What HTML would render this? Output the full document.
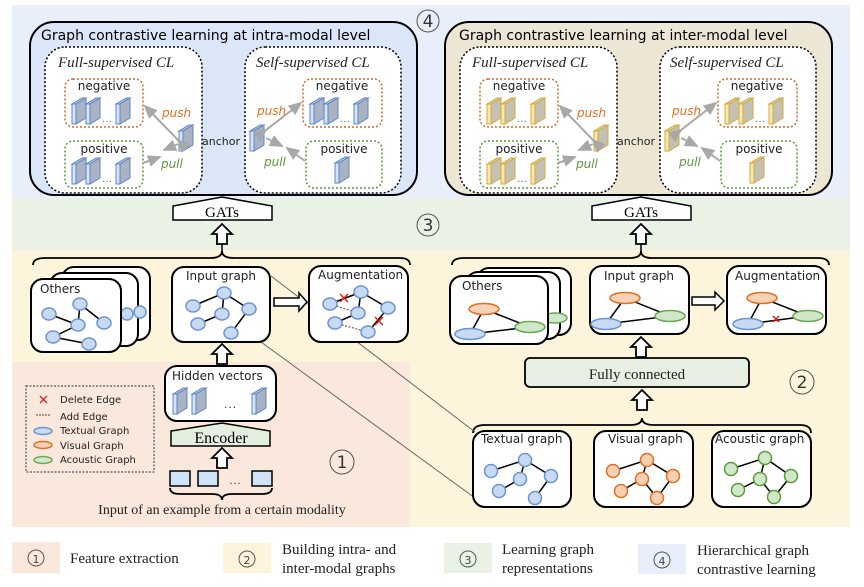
<!DOCTYPE html>
<html><head><meta charset="utf-8"><style>
html,body{margin:0;padding:0;background:#fff}
svg{display:block}
.h{font-family:"DejaVu Sans","Liberation Sans",sans-serif}
.s{font-family:"Liberation Serif",serif}
</style></head><body>
<svg width="864" height="587" viewBox="0 0 864 587" xmlns="http://www.w3.org/2000/svg">
<defs>
<g id="cb"><polygon points="0,6 10,0 14,0 4,6" fill="#b8c4d6" stroke="#5b86c8" stroke-width="1"/><polygon points="4,6 14,0 14,20 4,26" fill="#a9b3c4" stroke="#5b86c8" stroke-width="1"/><rect x="0" y="6" width="4" height="20" fill="#d5e4f8" stroke="#5b86c8" stroke-width="1"/></g>
<g id="cy"><polygon points="0,6 10,0 14,0 4,6" fill="#d7cfa8" stroke="#d4aa3c" stroke-width="1"/><polygon points="4,6 14,0 14,20 4,26" fill="#c4c1b2" stroke="#d4aa3c" stroke-width="1"/><rect x="0" y="6" width="4" height="20" fill="#f7e8b0" stroke="#d4aa3c" stroke-width="1"/></g>
<marker id="ga" markerWidth="8" markerHeight="8" refX="6" refY="4" orient="auto"><path d="M0,1 L7,4 L0,7z" fill="#a8a8a8"/></marker>
<g id="upar"><polygon points="-5,18 -5,8 -10,8 0,-2 10,8 5,8 5,18" fill="#fff" stroke="#000" stroke-width="1.8"/></g>
</defs>
<rect x="12" y="5" width="838" height="193" fill="#e9effa"/>
<rect x="12" y="198" width="838" height="52" fill="#eaf2e5"/>
<rect x="12" y="250" width="838" height="277" fill="#fdf4dc"/>
<rect x="12" y="362" width="398" height="165" fill="#fbe8dc"/>
<g class="h" font-size="17" fill="#333" text-anchor="middle">
<circle cx="428" cy="21" r="11" fill="none" stroke="#555"/><text x="428" y="27">4</text>
<circle cx="428" cy="225" r="11" fill="none" stroke="#555"/><text x="428" y="231">3</text>
<circle cx="342" cy="462" r="12" fill="none" stroke="#555"/><text x="342" y="468">1</text>
<circle cx="802" cy="382" r="12" fill="none" stroke="#555"/><text x="802" y="388">2</text>
</g>

<g>
<rect x="30" y="22" width="387" height="173" rx="24" fill="#dbe7f8" stroke="#000" stroke-width="2"/>
<text x="41" y="40" class="h" font-size="14" fill="#000">Graph contrastive learning at intra-modal level</text>
<rect x="45" y="47" width="157" height="146" rx="20" fill="#fff" stroke="#000" stroke-width="1.5" stroke-dasharray="2,2"/>
<rect x="245" y="47" width="156" height="146" rx="20" fill="#fff" stroke="#000" stroke-width="1.5" stroke-dasharray="2,2"/>
<text x="58" y="67" class="s" font-size="15" font-style="italic" fill="#222">Full-supervised CL</text>
<text x="256" y="67" class="s" font-size="15" font-style="italic" fill="#222">Self-supervised CL</text>
<rect x="65" y="79" width="78" height="48" rx="8" fill="#fff" stroke="#d06a28" stroke-width="1.5" stroke-dasharray="2,2"/>
<rect x="65" y="141" width="78" height="47" rx="8" fill="#fff" stroke="#5a9a3a" stroke-width="1.5" stroke-dasharray="2,2"/>
<rect x="303" y="79" width="79" height="48" rx="8" fill="#fff" stroke="#d06a28" stroke-width="1.5" stroke-dasharray="2,2"/>
<rect x="306" y="141" width="76" height="47" rx="8" fill="#fff" stroke="#5a9a3a" stroke-width="1.5" stroke-dasharray="2,2"/>
<g class="h" font-size="12" fill="#222" text-anchor="middle"><text x="104" y="90">negative</text><text x="104" y="153">positive</text><text x="342" y="90">negative</text><text x="344" y="153">positive</text></g>
<use href="#cb" x="72" y="98"/><use href="#cb" x="86" y="98"/><use href="#cb" x="116" y="98"/><text x="102" y="122" font-size="10" fill="#666">…</text>
<use href="#cb" x="72" y="158"/><use href="#cb" x="86" y="158"/><use href="#cb" x="116" y="158"/><text x="102" y="182" font-size="10" fill="#666">…</text>
<use href="#cb" x="310" y="98"/><use href="#cb" x="324" y="98"/><use href="#cb" x="354" y="98"/><text x="340" y="122" font-size="10" fill="#666">…</text>
<use href="#cb" x="335" y="157"/>
<use href="#cb" x="179" y="125"/><use href="#cb" x="250" y="125"/>
<g stroke="#a8a8a8" stroke-width="2" fill="none"><line x1="178" y1="140" x2="145" y2="106" marker-end="url(#ga)" marker-start="url(#ga)"/><line x1="143" y1="163" x2="160" y2="157" marker-end="url(#ga)"/><line x1="178" y1="144" x2="164" y2="150" marker-end="url(#ga)"/>
<line x1="266" y1="130" x2="301" y2="103" marker-end="url(#ga)" marker-start="url(#ga)"/><line x1="305" y1="161" x2="287" y2="148" marker-end="url(#ga)"/><line x1="266" y1="138" x2="282" y2="146" marker-end="url(#ga)"/></g>
<text x="162" y="117" class="h" font-size="12" font-style="italic" fill="#e07020">push</text>
<text x="161" y="168" class="h" font-size="12" font-style="italic" fill="#5a9a3a">pull</text>
<text x="257" y="115" class="h" font-size="12" font-style="italic" fill="#e07020">push</text>
<text x="264" y="166" class="h" font-size="12" font-style="italic" fill="#5a9a3a">pull</text>
<text x="202" y="145" class="h" font-size="11" fill="#222">anchor</text>
</g>
<g>
<rect x="445" y="22" width="387" height="173" rx="24" fill="#ede6d5" stroke="#000" stroke-width="2"/>
<text x="459" y="40" class="h" font-size="14" fill="#000">Graph contrastive learning at inter-modal level</text>
<rect x="460" y="47" width="157" height="146" rx="20" fill="#fff" stroke="#000" stroke-width="1.5" stroke-dasharray="2,2"/>
<rect x="660" y="47" width="156" height="146" rx="20" fill="#fff" stroke="#000" stroke-width="1.5" stroke-dasharray="2,2"/>
<text x="472" y="67" class="s" font-size="15" font-style="italic" fill="#222">Full-supervised CL</text>
<text x="670" y="67" class="s" font-size="15" font-style="italic" fill="#222">Self-supervised CL</text>
<rect x="480" y="79" width="78" height="48" rx="8" fill="#fff" stroke="#d06a28" stroke-width="1.5" stroke-dasharray="2,2"/>
<rect x="480" y="141" width="78" height="47" rx="8" fill="#fff" stroke="#5a9a3a" stroke-width="1.5" stroke-dasharray="2,2"/>
<rect x="718" y="79" width="79" height="48" rx="8" fill="#fff" stroke="#d06a28" stroke-width="1.5" stroke-dasharray="2,2"/>
<rect x="721" y="141" width="76" height="47" rx="8" fill="#fff" stroke="#5a9a3a" stroke-width="1.5" stroke-dasharray="2,2"/>
<g class="h" font-size="12" fill="#222" text-anchor="middle"><text x="519" y="90">negative</text><text x="519" y="153">positive</text><text x="757" y="90">negative</text><text x="759" y="153">positive</text></g>
<use href="#cy" x="487" y="98"/><use href="#cy" x="501" y="98"/><use href="#cy" x="531" y="98"/><text x="517" y="122" font-size="10" fill="#666">…</text>
<use href="#cy" x="487" y="158"/><use href="#cy" x="501" y="158"/><use href="#cy" x="531" y="158"/><text x="517" y="182" font-size="10" fill="#666">…</text>
<use href="#cy" x="725" y="98"/><use href="#cy" x="739" y="98"/><use href="#cy" x="769" y="98"/><text x="755" y="122" font-size="10" fill="#666">…</text>
<use href="#cy" x="750" y="157"/>
<use href="#cy" x="594" y="125"/><use href="#cy" x="665" y="125"/>
<g stroke="#a8a8a8" stroke-width="2" fill="none"><line x1="593" y1="140" x2="560" y2="106" marker-end="url(#ga)" marker-start="url(#ga)"/><line x1="558" y1="163" x2="575" y2="157" marker-end="url(#ga)"/><line x1="593" y1="144" x2="579" y2="150" marker-end="url(#ga)"/>
<line x1="681" y1="130" x2="716" y2="103" marker-end="url(#ga)" marker-start="url(#ga)"/><line x1="720" y1="161" x2="702" y2="148" marker-end="url(#ga)"/><line x1="681" y1="138" x2="697" y2="146" marker-end="url(#ga)"/></g>
<text x="577" y="117" class="h" font-size="12" font-style="italic" fill="#e07020">push</text>
<text x="576" y="168" class="h" font-size="12" font-style="italic" fill="#5a9a3a">pull</text>
<text x="672" y="115" class="h" font-size="12" font-style="italic" fill="#e07020">push</text>
<text x="679" y="166" class="h" font-size="12" font-style="italic" fill="#5a9a3a">pull</text>
<text x="617" y="145" class="h" font-size="11" fill="#222">anchor</text>
</g>

<polygon points="173,220 173,206 222,197 272,206 272,220" fill="#fff" stroke="#000" stroke-width="1.5"/>
<text x="222" y="217" class="s" font-size="15" text-anchor="middle">GATs</text>
<polygon points="592,220 592,206 641,197 691,206 691,220" fill="#fff" stroke="#000" stroke-width="1.5"/>
<text x="641" y="217" class="s" font-size="15" text-anchor="middle">GATs</text>
<use href="#upar" x="222" y="226"/><line x1="222" y1="244" x2="222" y2="252" stroke="#000" stroke-width="1.5"/>
<use href="#upar" x="641" y="226"/><line x1="641" y1="244" x2="641" y2="252" stroke="#000" stroke-width="1.5"/>

<g fill="none" stroke="#000" stroke-width="1.8">
<path d="M33,265 Q33,258 45,258 L210,258 Q222,258 222,251 Q222,258 234,258 L400,258 Q410,258 410,265"/>
<path d="M452,265 Q452,258 464,258 L630,258 Q641,258 641,251 Q641,258 652,258 L818,258 Q829,258 829,265"/>
<path d="M473,433 Q473,425 485,425 L630,425 Q642,425 642,418 Q642,425 654,425 L800,425 Q811,425 811,433"/>
<path d="M170,488 Q170,494 180,494 L212,494 Q222,494 222,500 Q222,494 232,494 L262,494 Q272,494 272,488"/>
</g>

<g stroke="#666" stroke-width="1"><line x1="271" y1="276" x2="475" y2="432"/><line x1="261" y1="342" x2="475" y2="498"/></g>

<g stroke="#000" stroke-width="2" fill="#fff">
<rect x="62" y="267" width="88" height="73" rx="12"/><rect x="50" y="273" width="88" height="73" rx="12"/>
</g>
<g fill="#c7daf4" stroke="#6d94d0" stroke-width="1.5"><ellipse cx="140" cy="312" rx="6" ry="6"/><ellipse cx="127" cy="314" rx="6" ry="6"/></g>
<g stroke="#000" stroke-width="2" fill="#fff">
<rect x="31" y="279" width="90" height="73" rx="12"/>
<rect x="172" y="267" width="98" height="75" rx="12"/>
<rect x="309" y="266" width="99" height="76" rx="12"/>
<rect x="165" y="366" width="111" height="55" rx="12"/>
</g>
<g stroke="#000" stroke-width="1.5"><line x1="49" y1="314" x2="78" y2="325"/><line x1="80" y1="304" x2="104" y2="323"/><line x1="80" y1="304" x2="78" y2="325"/><line x1="78" y1="325" x2="53" y2="337"/><line x1="53" y1="337" x2="89" y2="344"/>
<line x1="193" y1="306" x2="224" y2="293"/><line x1="224" y1="293" x2="222" y2="314"/><line x1="224" y1="293" x2="249" y2="309"/><line x1="198" y1="324" x2="222" y2="314"/><line x1="249" y1="309" x2="231" y2="333"/>
<line x1="330" y1="304" x2="361" y2="292"/><line x1="361" y1="292" x2="358" y2="313"/><line x1="361" y1="292" x2="388" y2="308"/><line x1="335" y1="323" x2="358" y2="313"/><line x1="388" y1="308" x2="368" y2="332"/></g>
<g stroke="#666" stroke-width="1.2" stroke-dasharray="2,1.5"><line x1="330" y1="304" x2="358" y2="313"/><line x1="335" y1="323" x2="368" y2="332"/></g>
<g fill="#c7daf4" stroke="#6d94d0" stroke-width="1.5">
<ellipse cx="49" cy="314" rx="7" ry="6"/><ellipse cx="80" cy="304" rx="7" ry="6"/><ellipse cx="78" cy="325" rx="7" ry="6"/><ellipse cx="104" cy="323" rx="7" ry="6"/><ellipse cx="53" cy="337" rx="7" ry="6"/><ellipse cx="89" cy="344" rx="7" ry="6"/>
<ellipse cx="193" cy="306" rx="7" ry="6"/><ellipse cx="224" cy="293" rx="7" ry="6"/><ellipse cx="222" cy="314" rx="7" ry="6"/><ellipse cx="249" cy="309" rx="7" ry="6"/><ellipse cx="198" cy="324" rx="7" ry="6"/><ellipse cx="231" cy="333" rx="7" ry="6"/>
<ellipse cx="330" cy="304" rx="7" ry="6"/><ellipse cx="361" cy="292" rx="7" ry="6"/><ellipse cx="358" cy="313" rx="7" ry="6"/><ellipse cx="388" cy="308" rx="7" ry="6"/><ellipse cx="335" cy="323" rx="7" ry="6"/><ellipse cx="368" cy="332" rx="7" ry="6"/>
</g>
<g stroke="#e02020" stroke-width="1.5"><path d="M340,294 l8,8 M348,294 l-8,8"/><path d="M375,317 l8,8 M383,317 l-8,8"/></g>
<g class="h" font-size="12" fill="#222"><text x="40" y="293">Others</text><text x="186" y="280">Input graph</text><text x="318" y="279">Augmentation</text><text x="172" y="380">Hidden vectors</text></g>
<polygon points="274,298 299,298 299,293 307,302 299,311 299,306 274,306" fill="#fff" stroke="#000" stroke-width="1.5"/>
<use href="#upar" x="222" y="346"/>
<use href="#cb" x="173" y="388"/><use href="#cb" x="192" y="388"/><use href="#cb" x="252" y="388"/>
<text x="230" y="408" font-size="13" fill="#333" text-anchor="middle">…</text>
<polygon points="171,446 171,431 222,423 270,431 270,446" fill="#e4efe0" stroke="#000" stroke-width="1.5"/>
<text x="221" y="443" class="s" font-size="16" text-anchor="middle">Encoder</text>
<use href="#upar" x="222" y="450"/>
<g fill="#cfe2f8" stroke="#000" stroke-width="1.5"><rect x="170" y="471" width="20" height="15"/><rect x="198" y="471" width="20" height="15"/><rect x="252" y="471" width="20" height="15"/></g>
<text x="235" y="484" font-size="12" fill="#333" text-anchor="middle">…</text>
<text x="222" y="514" class="s" font-size="14" fill="#222" text-anchor="middle">Input of an example from a certain modality</text>
<rect x="26" y="386" width="128" height="86" fill="none" stroke="#555" stroke-width="1.2" stroke-dasharray="2,1.5"/>
<g class="h" font-size="10" fill="#222"><text x="60" y="403">Delete Edge</text><text x="60" y="420">Add Edge</text><text x="60" y="434">Textual Graph</text><text x="60" y="449">Visual Graph</text><text x="60" y="463">Acoustic Graph</text></g>
<path d="M40,396 l7,7 M47,396 l-7,7" stroke="#e02020" stroke-width="1.3"/>
<line x1="36" y1="415" x2="50" y2="415" stroke="#444" stroke-dasharray="2,1"/>
<ellipse cx="43" cy="431" rx="9" ry="3.5" fill="#c7daf4" stroke="#6d94d0" stroke-width="1.5"/>
<ellipse cx="43" cy="445" rx="9" ry="3.5" fill="#f8d2b8" stroke="#e07020" stroke-width="1.5"/>
<ellipse cx="43" cy="460" rx="9" ry="3.5" fill="#d1e8c8" stroke="#6aa855" stroke-width="1.5"/>

<g stroke="#000" stroke-width="2" fill="#fff">
<rect x="477" y="268" width="94" height="67" rx="12"/><rect x="466" y="272" width="94" height="67" rx="12"/>
</g>
<ellipse cx="555" cy="318" rx="12" ry="5" fill="#d1e8c8" stroke="#6aa855" stroke-width="1.5"/>
<g stroke="#000" stroke-width="2" fill="#fff">
<rect x="450" y="276" width="98" height="68" rx="12"/>
<rect x="590" y="266" width="99" height="68" rx="12"/>
<rect x="727" y="266" width="99" height="68" rx="12"/>
<rect x="473" y="431" width="98" height="76" rx="12"/><rect x="594" y="431" width="99" height="76" rx="12"/><rect x="712" y="431" width="99" height="76" rx="12"/>
</g>
<rect x="525" y="358" width="224" height="29" rx="5" fill="#e6efe2" stroke="#000" stroke-width="1.8"/>
<text x="637" y="379" class="s" font-size="15" fill="#222" text-anchor="middle">Fully connected</text>
<use href="#upar" x="641" y="339"/><use href="#upar" x="642" y="392"/>
<polygon points="692,297 715,297 715,292 724,301 715,310 715,305 692,305" fill="#fff" stroke="#000" stroke-width="1.5"/>
<g class="h" font-size="12" fill="#222"><text x="462" y="290">Others</text><text x="604" y="280">Input graph</text><text x="735" y="280">Augmentation</text>
<text x="481" y="443">Textual graph</text><text x="608" y="443">Visual graph</text><text x="715" y="443">Acoustic graph</text></g>
<g stroke="#000" stroke-width="1.5">
<line x1="484" y1="309" x2="470" y2="334"/><line x1="484" y1="309" x2="530" y2="327"/><line x1="470" y1="334" x2="530" y2="327"/>
<line x1="625" y1="298" x2="606" y2="324"/><line x1="625" y1="298" x2="670" y2="316"/><line x1="606" y1="324" x2="670" y2="316"/>
<line x1="762" y1="298" x2="748" y2="324"/><line x1="762" y1="298" x2="808" y2="316"/><line x1="748" y1="324" x2="808" y2="316"/>
</g>
<path d="M773,316 l6,6 M779,316 l-6,6" stroke="#e02020" stroke-width="1.5"/>
<g stroke-width="1.5">
<ellipse cx="484" cy="309" rx="15" ry="5.5" fill="#f8d2b8" stroke="#e07020"/><ellipse cx="470" cy="334" rx="15" ry="5.5" fill="#c7daf4" stroke="#6d94d0"/><ellipse cx="530" cy="327" rx="15" ry="5.5" fill="#d1e8c8" stroke="#6aa855"/>
<ellipse cx="625" cy="298" rx="15" ry="5.5" fill="#f8d2b8" stroke="#e07020"/><ellipse cx="606" cy="324" rx="15" ry="5.5" fill="#c7daf4" stroke="#6d94d0"/><ellipse cx="670" cy="316" rx="15" ry="5.5" fill="#d1e8c8" stroke="#6aa855"/>
<ellipse cx="762" cy="298" rx="15" ry="5.5" fill="#f8d2b8" stroke="#e07020"/><ellipse cx="748" cy="324" rx="15" ry="5.5" fill="#c7daf4" stroke="#6d94d0"/><ellipse cx="808" cy="316" rx="15" ry="5.5" fill="#d1e8c8" stroke="#6aa855"/>
</g>
<g stroke="#000" stroke-width="1.5" fill="none">
<path d="M491,471 L525,460 L520,479 M525,460 L551,476 L535,498 M520,479 L499,491"/>
<path d="M613,471 L647,460 L642,479 M647,460 L673,476 L657,498 M642,479 L621,491 M642,479 L657,498"/>
<path d="M731,469 L765,458 L760,479 M765,458 L791,476 L774,497 M760,479 L738,490 M760,479 L774,497"/>
</g>
<g stroke-width="1.5">
<g fill="#c7daf4" stroke="#6d94d0"><circle cx="491" cy="471" r="6.5"/><circle cx="525" cy="460" r="6.5"/><circle cx="520" cy="479" r="6.5"/><circle cx="551" cy="476" r="6.5"/><circle cx="499" cy="491" r="6.5"/><circle cx="535" cy="498" r="6.5"/></g>
<g fill="#f8cfb3" stroke="#e07020"><circle cx="613" cy="471" r="6.5"/><circle cx="647" cy="460" r="6.5"/><circle cx="642" cy="479" r="6.5"/><circle cx="673" cy="476" r="6.5"/><circle cx="621" cy="491" r="6.5"/><circle cx="657" cy="498" r="6.5"/></g>
<g fill="#d1e8c8" stroke="#5a9a3a"><circle cx="731" cy="469" r="6.5"/><circle cx="765" cy="458" r="6.5"/><circle cx="760" cy="479" r="6.5"/><circle cx="791" cy="476" r="6.5"/><circle cx="738" cy="490" r="6.5"/><circle cx="774" cy="497" r="6.5"/></g>
</g>

<rect x="12" y="542" width="48" height="31" fill="#fbe8dc"/>
<rect x="223" y="543" width="48" height="30" fill="#fdf4dc"/>
<rect x="444" y="543" width="48" height="30" fill="#eaf2e5"/>
<rect x="638" y="544" width="48" height="30" fill="#e9effa"/>
<g class="h" font-size="14" fill="#444" text-anchor="middle">
<circle cx="36" cy="558" r="8" fill="none" stroke="#555"/><text x="36" y="563" font-size="11">1</text>
<circle cx="247" cy="559" r="8" fill="none" stroke="#555"/><text x="247" y="564" font-size="11">2</text>
<circle cx="468" cy="559" r="8" fill="none" stroke="#555"/><text x="468" y="564" font-size="11">3</text>
<circle cx="662" cy="560" r="8" fill="none" stroke="#555"/><text x="662" y="565" font-size="11">4</text>
</g>
<g class="s" font-size="15" fill="#222">
<text x="70" y="563">Feature extraction</text>
<text x="282" y="554">Building intra- and</text><text x="282" y="573">inter-modal graphs</text>
<text x="502" y="554">Learning graph</text><text x="502" y="573">representations</text>
<text x="697" y="555">Hierarchical graph</text><text x="697" y="574">contrastive learning</text>
</g>
</svg>
</body></html>
